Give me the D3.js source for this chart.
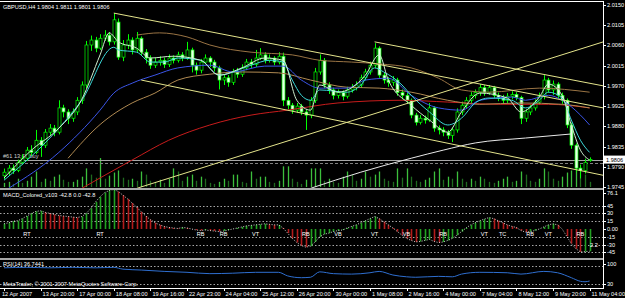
<!DOCTYPE html>
<html><head><meta charset="utf-8">
<script src="https://cdn.jsdelivr.net/npm/d3@7"></script>
<style>
html,body{margin:0;padding:0;background:#000;}
svg{display:block;}
text{font-family:"Liberation Sans",Arial,sans-serif;font-size:5.6px;fill:#fff;}
</style></head><body><div id="chart"></div>
<script>
// GBPUSD H4 — candles, MAs, trend lines, volumes, MACD histogram, RSI

const OPEN = [
  1.9770,1.9778,1.9787,1.9782,1.9800,1.9809,1.9827,1.9822,1.9849,1.9838,
  1.9867,1.9876,1.9867,1.9921,1.9912,1.9898,1.9912,1.9938,1.9972,2.0061,
  2.0072,2.0054,2.0076,2.0083,2.0068,2.0112,2.0034,2.0061,2.0072,2.0050,
  2.0076,2.0045,2.0032,2.0016,2.0023,2.0027,2.0018,2.0032,2.0027,2.0039,
  2.0032,2.0050,2.0016,2.0005,2.0023,2.0032,2.0023,2.0010,1.9983,1.9988,
  1.9978,2.0001,1.9996,2.0010,2.0023,2.0018,2.0032,2.0039,2.0027,2.0032,
  2.0023,2.0036,1.9938,1.9927,1.9916,1.9925,1.9912,1.9905,1.9938,2.0001,
  2.0027,1.9972,1.9961,1.9949,1.9955,1.9947,1.9961,1.9966,1.9972,1.9988,
  2.0001,2.0016,2.0054,1.9994,1.9983,1.9978,1.9983,1.9955,1.9949,1.9938,
  1.9905,1.9889,1.9898,1.9894,1.9921,1.9876,1.9872,1.9867,1.9860,1.9872,
  1.9912,1.9927,1.9938,1.9949,1.9955,1.9966,1.9955,1.9966,1.9949,1.9944,
  1.9938,1.9947,1.9951,1.9944,1.9898,1.9912,1.9921,1.9934,1.9947,1.9983,
  1.9961,1.9974,1.9949,1.9938,1.9883,1.9838,1.9787,1.9782,1.9804];
const HIGH = [
  1.9786,1.9794,1.9795,1.9806,1.9818,1.9834,1.9838,1.9872,1.9856,1.9874,
  1.9885,1.9883,1.9938,1.9928,1.9918,1.9920,1.9945,1.9980,2.0070,2.0082,
  2.0079,2.0085,2.0094,2.0090,2.0132,2.0120,2.0072,2.0085,2.0078,2.0090,
  2.0080,2.0052,2.0038,2.0032,2.0036,2.0033,2.0040,2.0038,2.0046,2.0045,
  2.0068,2.0055,2.0022,2.0030,2.0040,2.0036,2.0028,2.0015,1.9996,1.9994,
  2.0008,2.0010,2.0018,2.0030,2.0030,2.0050,2.0054,2.0045,2.0040,2.0036,
  2.0045,2.0044,1.9945,1.9932,1.9932,1.9930,1.9918,1.9945,2.0010,2.0040,
  2.0032,1.9978,1.9966,1.9962,1.9960,1.9968,1.9974,1.9980,1.9995,2.0008,
  2.0024,2.0065,2.0058,2.0000,1.9990,1.9992,1.9988,1.9962,1.9955,1.9942,
  1.9910,1.9905,1.9904,1.9932,1.9925,1.9882,1.9878,1.9872,1.9878,1.9920,
  1.9935,1.9945,1.9956,1.9962,1.9974,1.9972,1.9972,1.9970,1.9955,1.9950,
  1.9954,1.9958,1.9956,1.9948,1.9918,1.9928,1.9940,1.9955,1.9994,1.9988,
  1.9982,1.9978,1.9955,1.9942,1.9888,1.9842,1.9795,1.9808,1.9811];
const LOW = [
  1.9762,1.9771,1.9774,1.9778,1.9795,1.9803,1.9815,1.9818,1.9812,1.9832,
  1.9860,1.9858,1.9862,1.9900,1.9885,1.9890,1.9905,1.9930,1.9965,2.0048,
  2.0045,2.0050,2.0070,2.0060,2.0062,2.0028,2.0025,2.0052,2.0040,2.0045,
  2.0038,2.0020,2.0008,2.0010,2.0015,2.0010,2.0012,2.0020,2.0022,2.0025,
  2.0028,2.0000,1.9995,1.9998,2.0018,2.0012,2.0002,1.9962,1.9972,1.9968,
  1.9972,1.9988,1.9990,2.0005,2.0010,2.0012,2.0028,2.0020,2.0022,2.0016,
  2.0018,1.9925,1.9918,1.9908,1.9910,1.9905,1.9872,1.9898,1.9932,1.9995,
  1.9965,1.9952,1.9940,1.9942,1.9938,1.9942,1.9955,1.9960,1.9966,1.9982,
  1.9995,2.0010,1.9988,1.9975,1.9968,1.9970,1.9948,1.9940,1.9930,1.9898,
  1.9882,1.9884,1.9886,1.9890,1.9868,1.9862,1.9858,1.9852,1.9845,1.9866,
  1.9905,1.9920,1.9932,1.9942,1.9948,1.9948,1.9950,1.9942,1.9936,1.9930,
  1.9932,1.9940,1.9938,1.9885,1.9890,1.9905,1.9915,1.9928,1.9940,1.9955,
  1.9950,1.9942,1.9930,1.9876,1.9830,1.9778,1.9764,1.9775,1.9801];
const CLOSE = [
  1.9778,1.9787,1.9782,1.9800,1.9809,1.9827,1.9822,1.9849,1.9838,1.9867,
  1.9876,1.9867,1.9921,1.9912,1.9898,1.9912,1.9938,1.9972,2.0061,2.0072,
  2.0054,2.0076,2.0083,2.0068,2.0117,2.0034,2.0061,2.0072,2.0050,2.0076,
  2.0045,2.0032,2.0016,2.0023,2.0027,2.0018,2.0032,2.0027,2.0039,2.0032,
  2.0050,2.0016,2.0005,2.0023,2.0032,2.0023,2.0010,1.9983,1.9988,1.9978,
  2.0001,1.9996,2.0010,2.0023,2.0018,2.0032,2.0039,2.0027,2.0032,2.0023,
  2.0036,1.9938,1.9927,1.9916,1.9925,1.9912,1.9905,1.9938,2.0001,2.0027,
  1.9972,1.9961,1.9949,1.9955,1.9947,1.9961,1.9966,1.9972,1.9988,2.0001,
  2.0016,2.0054,1.9994,1.9983,1.9978,1.9983,1.9955,1.9949,1.9938,1.9905,
  1.9889,1.9898,1.9894,1.9921,1.9876,1.9872,1.9867,1.9860,1.9872,1.9912,
  1.9927,1.9938,1.9949,1.9955,1.9966,1.9955,1.9966,1.9949,1.9944,1.9938,
  1.9947,1.9951,1.9944,1.9898,1.9912,1.9921,1.9934,1.9947,1.9983,1.9961,
  1.9974,1.9949,1.9938,1.9883,1.9838,1.9787,1.9782,1.9800,1.9806];
const VOLUME = [
  400,500,300,800,400,600,1000,1500,500,800,
  600,1000,1200,700,500,500,700,1000,1800,1200,
  900,2800,800,1100,1400,1600,900,700,800,600,
  1500,1200,600,500,700,400,800,1800,1500,600,
  1000,1200,600,1000,800,400,300,500,800,600,
  1200,1200,500,400,1500,800,1000,1000,500,400,
  600,2000,2000,800,500,300,700,1800,1800,1800,
  600,800,500,400,1000,1500,1200,600,800,1500,
  1000,1200,1500,800,600,500,1800,900,1800,1000,
  600,500,700,900,1500,1800,700,1000,800,1500,
  800,500,800,600,1000,800,500,400,600,800,
  1000,500,600,1500,1200,600,500,800,1800,1500,
  800,600,1000,1400,1600,1800,1500,1200,500];
const MACD_HIST = [
  10,12,15,16,20,25,30,34,35,32,
  30,28,26,25,24,23,22,24,30,40,
  52,62,70,74,76.1,72,65,58,50,42,
  33,25,18,12,8,5,3,2,1,3,
  2,0,-2,-3,-2,-3,-4,-5,-4,-2,
  0,2,4,6,7,8,9,10,9,8,
  8,2,-8,-18,-26,-32,-35,-33,-25,-15,
  -10,-8,-5,-3,-2,2,5,8,12,16,
  20,24,20,14,8,2,-5,-12,-18,-22,
  -25,-24,-22,-20,-24,-26,-25,-22,-18,-12,
  -5,2,8,12,16,19,22,20,16,12,
  8,5,3,-3,-6,-5,-3,0,4,8,
  10,8,0,-14,-28,-38,-44,-43.5,-42.8];
// RSI(14) read at bar indices
const RSI = [[0,66],[5,67],[10,66],[15,67],[20,66],[24,67],[26,63],[30,61],[35,58],[40,56],[45,53],
  [50,54],[55,56],[60,56],[62,48],[65,44],[67,45],[69,57],[72,53],[76,52],[80,55],[82,58],[85,50],
  [88,46],[90,45],[95,47],[98,46],[100,52],[104,56],[110,55],[113,52],[118,58],[121,55],[124,44],
  [126,36],[127,35],[128,36.7]];

// moving averages, [bar index, price]
const MA_FAST = [[0,1.9765],[6,1.9827],[12,1.9876],[17,1.9940],[21,2.0039],[23,2.0088],[25,2.0068],[29,2.0054],
  [32,2.0032],[37,2.0036],[43,2.0027],[47,1.9994],[52,2.0010],[57,2.0032],[61,2.0027],[64,1.9938],[67,1.9916],
  [69,1.9972],[73,1.9956],[79,1.9994],[82,2.0039],[84,1.9983],[89,1.9927],[93,1.9894],[97,1.9867],[100,1.9912],
  [104,1.9954],[110,1.9943],[113,1.9912],[117,1.9945],[119,1.9974],[122,1.9949],[124,1.9883],[126,1.9827],[128,1.9805]];
const MA_CYAN = [[0,1.9760],[12,1.9876],[17,1.9938],[24,2.0056],[25,2.0050],[29,2.0045],[32,2.0023],[35,2.0023],
  [38,2.0032],[43,2.0027],[47,1.9994],[54,2.0016],[58,2.0027],[61,2.0023],[63,1.9983],[65,1.9949],[67,1.9938],
  [69,1.9961],[75,1.9956],[78,1.9972],[81,2.0010],[83,2.0001],[87,1.9972],[89,1.9949],[93,1.9912],[97,1.9883],
  [100,1.9898],[103,1.9932],[106,1.9943],[111,1.9938],[114,1.9921],[117,1.9938],[119,1.9956],[122,1.9943],
  [124,1.9894],[126,1.9849],[128,1.9822]];
const MA_BLUE = [[1,1.9742],[12,1.9822],[21,1.9916],[24,1.9954],[28,1.9976],[33,1.9994],[38,2.0010],[45,2.0016],
  [50,2.0001],[57,2.0014],[61,2.0014],[65,1.9983],[69,1.9965],[75,1.9965],[79,1.9983],[84,1.9987],[89,1.9949],
  [95,1.9921],[100,1.9916],[104,1.9938],[111,1.9945],[114,1.9938],[119,1.9949],[122,1.9938],[126,1.9905],[128,1.9883]];
const MA_TAN_UP = [[29,2.0083],[34,2.0088],[40,2.0079],[45,2.0061],[54,2.0045],[63,2.0039],[69,2.0027],[76,2.0023],
  [82,2.0019],[89,2.0010],[95,1.9987],[100,1.9961],[106,1.9956],[117,1.9965],[128,1.9956]];
const MA_TAN = [[14,1.9809],[21,1.9884],[28,1.9932],[33,1.9954],[38,1.9983],[45,1.9996],[52,2.0001],[60,1.9999],
  [67,1.9983],[75,1.9967],[82,1.9965],[89,1.9956],[97,1.9938],[104,1.9929],[113,1.9932],[122,1.9929],[128,1.9921]];
const MA_RED = [[17,1.9742],[28,1.9805],[36,1.9849],[45,1.9883],[54,1.9905],[62,1.9916],[73,1.9932],[87,1.9938],
  [97,1.9934],[108,1.9929],[119,1.9929],[128,1.9921]];
const MA_WHITE = [[67,1.9742],[78,1.9778],[89,1.9809],[96,1.9827],[103,1.9843],[114,1.9854],[124,1.9863]];

// trend lines, two anchor points each
const TRENDS = [
  [[24,2.0132],[131,1.9921]],
  [[30,1.9983],[131,1.9771]],
  [[81,2.0068],[131,1.9970]],
  [[29,1.9742],[131,2.0068]]];

const PRICE_TICKS = [2.0150,2.0105,2.0060,2.0015,1.9970,1.9925,1.9880,1.9835,1.9790,1.9745];
const MACD_TICKS = [45,30,15,-15,-30,-45];
const RSI_LEVELS = [70,30];
const TIME_BARS = [0,8,16,24,32,40,48,56,64,72,80,88,96,104,112,120,128];
const TIME_LABELS = ['12 Apr 2007','13 Apr 20:00','17 Apr 00:00','18 Apr 08:00','19 Apr 16:00','22 Apr 23:00',
  '24 Apr 04:00','25 Apr 12:00','26 Apr 20:00','30 Apr 00:00','1 May 08:00','2 May 16:00','4 May 00:00',
  '7 May 04:00','8 May 12:00','9 May 20:00','11 May 04:00'];
const MARK_BARS = [5,21,43,48,55,66,73,81,88,96,105,109,115,119,126];
const MARK_TEXT = ['RT','RT','RB','RB','VT','RB','VB','VT','VB','RB','VT','TC','RB','VT','RB'];
const LAST_PRICE = 1.9806, ORDER_PRICE = 1.9799;

(function () {
  'use strict';
  const W = 625, H = 298, AX = 603;
  const N = CLOSE.length;

  const svg = d3.select('#chart').append('svg').attr('width', W).attr('height', H).style('background', '#000');
  const defs = svg.append('defs');
  const clip = (id, y0, y1) => defs.append('clipPath').attr('id', id)
    .append('rect').attr('x', 0).attr('y', y0).attr('width', AX).attr('height', y1 - y0);
  clip('cMain', 2, 188); clip('cMacd', 190, 258); clip('cRsi', 260, 288);

  const x = d3.scaleLinear().domain([0, 128]).range([4, 589.6]);
  const yP = d3.scaleLinear().domain([1.9745, 2.0150]).range([187, 5]);
  const yV = d3.scaleLinear().domain([0, 3000]).range([187, 156]);
  const yM = d3.scaleLinear().domain([0, 45]).range([229, 205.6]);
  const yR = d3.scaleLinear().domain([30, 70]).range([284, 266]);
  const px = v => Math.round(v) + 0.5;

  // ---- main panel
  const main = svg.append('g').attr('clip-path', 'url(#cMain)');

  // volumes
  main.selectAll('line.vol').data(VOLUME).join('line').attr('class', 'vol')
    .attr('x1', (d, i) => px(x(i))).attr('x2', (d, i) => px(x(i)))
    .attr('y1', yV(0)).attr('y2', d => yV(d))
    .attr('stroke', (d, i) => (i === 0 || d >= VOLUME[i - 1]) ? '#3cbf3c' : '#1f6a1f')
    .attr('stroke-width', 1.3);

  // bid line + order line
  main.append('line').attr('x1', 0).attr('x2', AX).attr('y1', px(yP(LAST_PRICE))).attr('y2', px(yP(LAST_PRICE)))
    .attr('stroke', '#a8a8a8').attr('stroke-width', 1);
  main.append('line').attr('x1', 0).attr('x2', AX).attr('y1', px(yP(ORDER_PRICE))).attr('y2', px(yP(ORDER_PRICE)))
    .attr('stroke', '#808080').attr('stroke-width', 1).attr('stroke-dasharray', '3,2');
  main.append('text').attr('x', 3).attr('y', yP(LAST_PRICE) - 1.5).style('fill', '#d0d0d0').text('#61 13:47 buy');

  // candles
  const idx = d3.range(N);
  main.selectAll('line.wick').data(idx).join('line').attr('class', 'wick')
    .attr('x1', i => px(x(i))).attr('x2', i => px(x(i)))
    .attr('y1', i => yP(HIGH[i])).attr('y2', i => yP(LOW[i]))
    .attr('stroke', '#00ff00').attr('stroke-width', 1);
  main.selectAll('rect.body').data(idx).join('rect').attr('class', 'body')
    .attr('x', i => px(x(i)) - 1.5).attr('width', 3)
    .attr('y', i => yP(Math.max(OPEN[i], CLOSE[i])))
    .attr('height', i => Math.max(0.8, Math.abs(yP(OPEN[i]) - yP(CLOSE[i]))))
    .attr('fill', i => CLOSE[i] >= OPEN[i] ? '#000' : '#e8ffe8')
    .attr('stroke', '#00ff00').attr('stroke-width', 0.7);

  // moving averages
  const maLine = d3.line().x(d => x(d[0])).y(d => yP(d[1])).curve(d3.curveMonotoneX);
  [[MA_WHITE, '#e8e8e8'], [MA_RED, '#c81c1c'], [MA_TAN, '#b08a52'], [MA_TAN_UP, '#9a7444'],
   [MA_BLUE, '#3b55e8'], [MA_CYAN, '#3cd8d8'], [MA_FAST, '#cfeecf']].forEach(([d, c]) => {
    main.append('path').attr('d', maLine(d)).attr('fill', 'none').attr('stroke', c).attr('stroke-width', 1);
  });

  // trend lines
  TRENDS.forEach(t => {
    main.append('line').attr('x1', x(t[0][0])).attr('y1', yP(t[0][1])).attr('x2', x(t[1][0])).attr('y2', yP(t[1][1]))
      .attr('stroke', '#e4e48c').attr('stroke-width', 1);
  });

  svg.append('text').attr('x', 3).attr('y', 8.5).text('GBPUSD,H4  1.9804 1.9811 1.9801 1.9806');

  // ---- MACD panel
  const macd = svg.append('g').attr('clip-path', 'url(#cMacd)');
  MACD_TICKS.forEach(v => {
    macd.append('line').attr('x1', 0).attr('x2', AX).attr('y1', px(yM(v))).attr('y2', px(yM(v)))
      .attr('stroke', '#d0d0d0').attr('stroke-width', 0.8).attr('stroke-dasharray', '1.5,2');
  });
  macd.selectAll('line.h').data(MACD_HIST).join('line').attr('class', 'h')
    .attr('x1', (d, i) => px(x(i))).attr('x2', (d, i) => px(x(i)))
    .attr('y1', yM(0)).attr('y2', d => yM(d))
    .attr('stroke', (d, i) => (i === 0 || d >= MACD_HIST[i - 1]) ? '#22a322' : '#b31c1c')
    .attr('stroke-width', 1.6);
  macd.append('path').attr('d', d3.line().x((d, i) => x(i)).y(d => yM(d))(MACD_HIST))
    .attr('fill', 'none').attr('stroke', '#fff').attr('stroke-width', 0.8).attr('stroke-dasharray', '1,1.6');
  macd.selectAll('text.mk').data(MARK_BARS).join('text').attr('class', 'mk')
    .attr('x', d => x(d)).attr('y', yM(-13)).attr('text-anchor', 'middle')
    .text((d, i) => MARK_TEXT[i]);
  macd.append('text').attr('x', 590).attr('y', yM(-30) + 2).text('2.2');
  svg.append('text').attr('x', 3).attr('y', 197).text('MACD_Colored_v103 -42.8 0.0 -42.8');

  // ---- RSI panel
  const rsi = svg.append('g').attr('clip-path', 'url(#cRsi)');
  RSI_LEVELS.forEach(v => {
    rsi.append('line').attr('x1', 0).attr('x2', AX).attr('y1', px(yR(v))).attr('y2', px(yR(v)))
      .attr('stroke', '#d0d0d0').attr('stroke-width', 0.8).attr('stroke-dasharray', '1.5,2');
  });
  rsi.append('path').attr('d', d3.line().x(d => x(d[0])).y(d => yR(d[1])).curve(d3.curveMonotoneX)(RSI))
    .attr('fill', 'none').attr('stroke', '#2f6fd0').attr('stroke-width', 1);
  svg.append('text').attr('x', 3).attr('y', 266).text('RSI(14) 36.7441');
  svg.append('text').attr('x', 3).attr('y', 285.5).text('MetaTrader, \u00a9 2001-2007 MetaQuotes Software Corp.');

  // ---- frames and separators
  svg.append('line').attr('x1', 0).attr('x2', AX).attr('y1', 1.5).attr('y2', 1.5).attr('stroke', '#fff');
  svg.append('rect').attr('x', 0).attr('y', 188).attr('width', AX).attr('height', 2).attr('fill', '#a8a8a8');
  svg.append('rect').attr('x', 0).attr('y', 258).attr('width', AX).attr('height', 2).attr('fill', '#a8a8a8');
  svg.append('line').attr('x1', 0).attr('x2', AX + 1).attr('y1', 288.5).attr('y2', 288.5).attr('stroke', '#fff');
  svg.append('line').attr('x1', AX + 0.5).attr('x2', AX + 0.5).attr('y1', 1).attr('y2', 289).attr('stroke', '#fff');

  // price axis
  PRICE_TICKS.forEach(p => {
    svg.append('line').attr('x1', AX).attr('x2', AX + 3).attr('y1', px(yP(p))).attr('y2', px(yP(p))).attr('stroke', '#fff');
    svg.append('text').attr('x', AX + 4).attr('y', yP(p) + 2).text(p.toFixed(4));
  });
  const ly = yP(LAST_PRICE);
  svg.append('rect').attr('x', AX + 1).attr('y', ly - 4).attr('width', 21).attr('height', 8).attr('fill', '#fff');
  svg.append('text').attr('x', AX + 3).attr('y', ly + 2).style('fill', '#000').text(LAST_PRICE.toFixed(4));

  // MACD axis
  [[76.1, '76.1']].concat(MACD_TICKS.map(v => [v, String(v)])).concat([[0, '0.00']]).forEach(([v, t]) => {
    const yy = v === 76.1 ? 193 : yM(v);
    svg.append('line').attr('x1', AX).attr('x2', AX + 3).attr('y1', px(yy)).attr('y2', px(yy)).attr('stroke', '#fff');
    svg.append('text').attr('x', AX + 4).attr('y', yy + 2).text(t);
  });
  // RSI axis
  [[264, '100'], [yR(30), '30']].forEach(([yy, t]) => {
    svg.append('line').attr('x1', AX).attr('x2', AX + 3).attr('y1', px(yy)).attr('y2', px(yy)).attr('stroke', '#fff');
    svg.append('text').attr('x', AX + 4).attr('y', yy + 2).text(t);
  });

  // time axis
  TIME_BARS.forEach((b, k) => {
    svg.append('line').attr('x1', px(x(b))).attr('x2', px(x(b))).attr('y1', 288).attr('y2', 291).attr('stroke', '#fff');
    svg.append('text').attr('x', k === 0 ? 2 : x(b) + 2).attr('y', 296).text(TIME_LABELS[k]);
  });
})();
</script></body></html>
